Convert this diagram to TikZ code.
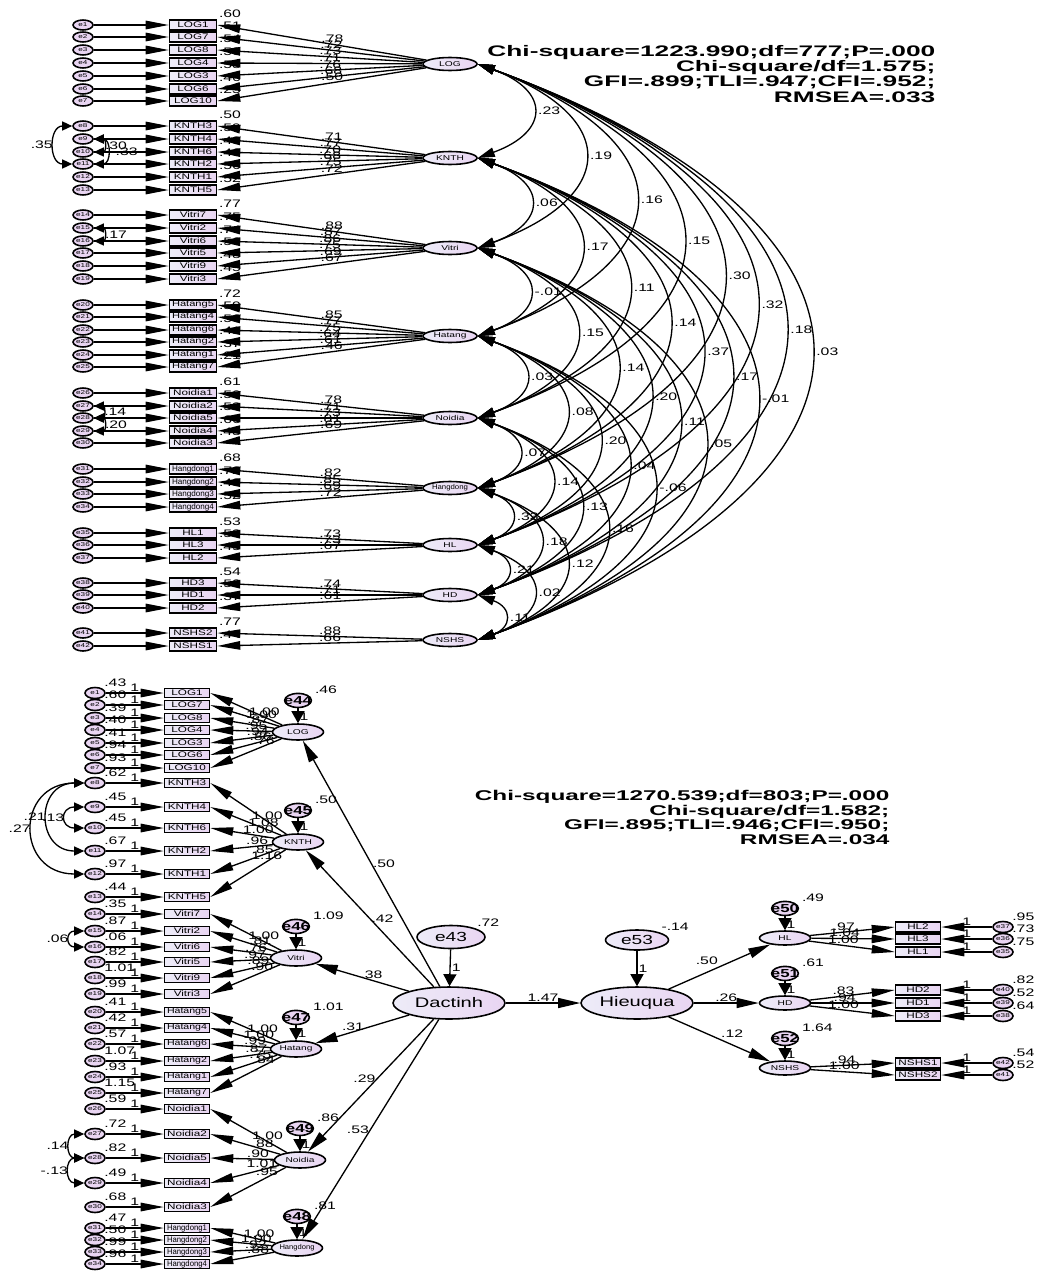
\documentclass[tikz,border=0pt]{standalone}
\usepackage{graphicx}
\usepackage{fontspec}
\setmainfont{Liberation Sans}[FakeStretch=1.45]
\newfontfamily\statfont{Liberation Sans}[FakeStretch=1.72]
\usetikzlibrary{arrows.meta, positioning, shapes.geometric}

\definecolor{lavleft}{RGB}{237,236,248}
\definecolor{lavright}{RGB}{233,213,242}

\newsavebox\sqbox
\newcommand{\squeeze}[2]{\sbox\sqbox{#2}%
  \ifdim\wd\sqbox>#1\relax\resizebox{#1}{\height}{#2}\else\usebox\sqbox\fi}

\begin{document}
\begin{tikzpicture}[
  x=0.02cm, y=-0.02cm,
  line width=0.75pt,
  lat/.style={ellipse, draw, line width=0.9pt, left color=lavleft, right color=lavright,
    inner sep=0pt, minimum width=10.8mm, minimum height=2.6mm, font=\fontsize{4}{4}\selectfont},
  obs/.style={rectangle, draw, line width=0.9pt, left color=lavleft, right color=lavright,
    inner sep=0pt, minimum width=9.4mm, minimum height=2mm, font=\fontsize{4.6}{4.6}\selectfont},
  err/.style={ellipse, draw, line width=0.9pt, fill=lavright, inner sep=0pt,
    minimum width=4mm, minimum height=2mm, font=\fontsize{3.2}{3.2}\selectfont},
  res/.style={ellipse, draw, line width=0.9pt, fill=lavright, inner sep=-2.6pt,
    minimum width=4.4mm, minimum height=2.8mm, font=\bfseries\fontsize{6.6}{6.6}\selectfont},
  big/.style={ellipse, draw, line width=0.9pt, left color=lavleft, right color=lavright,
    inner sep=0pt, minimum width=22.4mm, minimum height=6.4mm, font=\fontsize{7.9}{7.9}\selectfont},
  lbl/.style={font=\fontsize{6.2}{6.2}\selectfont, inner sep=0.6pt},
  stat/.style={font=\statfont\bfseries\fontsize{8.7}{8.6}\selectfont, align=right, inner sep=0pt},
  harr/.style={-{Triangle[length=4.6mm, width=1.7mm]}},
  varr/.style={-{Triangle[length=2.4mm, width=2.6mm]}},
  sarr/.style={-{Triangle[length=4.4mm, width=2mm]}},
  cov/.style={{Triangle[length=3.4mm, width=1.9mm]}-{Triangle[length=3.4mm, width=1.9mm]}},
  ecov/.style={{Triangle[length=2mm, width=1.8mm]}-{Triangle[length=2mm, width=1.8mm]}}
]
  \useasboundingbox (0,0) rectangle (1036,1271);

  % ---------- measurement model (top) ----------
  \def\toprows{%
    LOG1/25/e1/.60/.78/LOG, LOG7/37/e2/.51/.72/LOG, LOG8/50/e3/.54/.73/LOG, LOG4/63/e4/.50/.71/LOG,
    LOG3/76/e5/.58/.76/LOG, LOG6/89/e6/.46/.68/LOG, LOG10/101/e7/.25/.50/LOG,
    KNTH3/126/e8/.50/.71/KNTH, KNTH4/139/e9/.59/.77/KNTH, KNTH6/152/e10/.49/.70/KNTH,
    KNTH2/164/e11/.46/.68/KNTH, KNTH1/177/e12/.56/.75/KNTH, KNTH5/190/e13/.52/.72/KNTH,
    Vitri7/215/e14/.77/.88/Vitri, Vitri2/228/e15/.75/.87/Vitri, Vitri6/241/e16/.74/.86/Vitri,
    Vitri5/253/e17/.56/.75/Vitri, Vitri9/266/e18/.48/.69/Vitri, Vitri3/279/e19/.45/.67/Vitri,
    Hatang5/305/e20/.72/.85/Hatang, Hatang4/317/e21/.59/.77/Hatang, Hatang6/330/e22/.56/.75/Hatang,
    Hatang2/342/e23/.41/.64/Hatang, Hatang1/355/e24/.37/.61/Hatang, Hatang7/367/e25/.21/.46/Hatang,
    Noidia1/393/e26/.61/.78/Noidia, Noidia2/406/e27/.50/.71/Noidia, Noidia5/418/e28/.53/.73/Noidia,
    Noidia4/431/e29/.66/.81/Noidia, Noidia3/443/e30/.48/.69/Noidia,
    Hangdong1/469/e31/.68/.82/Hangdong, Hangdong2/482/e32/.72/.85/Hangdong,
    Hangdong3/494/e33/.48/.69/Hangdong, Hangdong4/507/e34/.52/.72/Hangdong,
    HL1/533/e35/.53/.73/HL, HL3/545/e36/.53/.73/HL, HL2/558/e37/.45/.67/HL,
    HD3/583/e38/.54/.74/HD, HD1/595/e39/.50/.71/HD, HD2/608/e40/.37/.61/HD,
    NSHS2/633/e41/.77/.88/NSHS, NSHS1/646/e42/.44/.66/NSHS}

  \foreach \lv/\yy in {LOG/64, KNTH/158, Vitri/248, Hatang/336, Noidia/418,
                       Hangdong/488, HL/545, HD/595, NSHS/640}
    \node[lat] (t\lv) at (450,\yy) {\squeeze{7.2mm}{\lv}};

  \foreach \lab/\yy/\ee/\rs/\ww/\lv in \toprows {
    \node[obs, label={[lbl]north east:\rs}] (t\lab) at (193,\yy) {\squeeze{8.4mm}{\lab}};
    \node[err] (t\ee) at (83,\yy) {\ee};
  }
  \foreach \lab/\yy/\ee/\rs/\ww/\lv in \toprows {
    \draw[harr] (t\ee) -- (t\lab);
    \draw[harr] (t\lv) -- node[lbl, pos=0.45, above]{\ww} (t\lab.east);
  }

  % error covariances
  \draw[ecov] (te8) to[out=180, in=180, looseness=1.6] node[lbl, left]{.35} (te11);
  \draw[ecov] (te9) to[out=0, in=0, looseness=2.5] node[lbl, right]{.30} (te10);
  \draw[ecov] (te9) to[out=0, in=0, looseness=1.8] node[lbl, right, xshift=4pt]{.33} (te11);
  \draw[ecov] (te15) to[out=0, in=0, looseness=2.5] node[lbl, right]{.17} (te16);
  \draw[ecov] (te27) to[out=0, in=0, looseness=2.5] node[lbl, right]{.14} (te28);
  \draw[ecov] (te28) to[out=0, in=0, looseness=2.5] node[lbl, right]{.20} (te29);

  % factor covariances
  \foreach \a/\b/\vv in {LOG/KNTH/.23, LOG/Vitri/.19, LOG/Hatang/.16, LOG/Noidia/.15,
      LOG/Hangdong/.30, LOG/HL/.32, LOG/HD/.18, LOG/NSHS/.03,
      KNTH/Vitri/.06, KNTH/Hatang/.17, KNTH/Noidia/.11, KNTH/Hangdong/.14,
      KNTH/HL/.37, KNTH/HD/.17, KNTH/NSHS/-.01,
      Vitri/Hatang/-.01, Vitri/Noidia/.15, Vitri/Hangdong/.14, Vitri/HL/.20,
      Vitri/HD/.11, Vitri/NSHS/.05,
      Hatang/Noidia/.03, Hatang/Hangdong/.08, Hatang/HL/.20, Hatang/HD/.04, Hatang/NSHS/-.06,
      Noidia/Hangdong/.07, Noidia/HL/.14, Noidia/HD/.13, Noidia/NSHS/.16,
      Hangdong/HL/.33, Hangdong/HD/.18, Hangdong/NSHS/.12,
      HL/HD/.21, HL/NSHS/.02, HD/NSHS/.11}
    \draw[cov] (t\a.east) to[bend left=70, looseness=2.1]
      node[lbl, right, xshift=2.5pt]{\vv} (t\b.east);

  \node[stat, anchor=north east] (fitTop) at (936,45)
    {Chi-square=1223.990;df=777;P=.000\\Chi-square/df=1.575;\\GFI=.899;TLI=.947;CFI=.952;\\RMSEA=.033};

  % ---------- structural model (bottom) ----------
  \def\botrows{%
    LOG1/693/e1/.43/1.00/LOG, LOG7/705/e2/.60/1.00/LOG, LOG8/718/e3/.39/.87/LOG,
    LOG4/730/e4/.40/.95/LOG, LOG3/743/e5/.41/.94/LOG, LOG6/755/e6/.94/.86/LOG, LOG10/768/e7/.93/.76/LOG,
    KNTH3/783/e8/.62/1.00/KNTH, KNTH4/807/e9/.45/1.08/KNTH, KNTH6/828/e10/.45/1.00/KNTH,
    KNTH2/851/e11/.67/.96/KNTH, KNTH1/874/e12/.97/.85/KNTH, KNTH5/897/e13/.44/1.16/KNTH,
    Vitri7/914/e14/.35/1.00/Vitri, Vitri2/931/e15/.87/.81/Vitri, Vitri6/947/e16/.06/.76/Vitri,
    Vitri5/962/e17/.82/.97/Vitri, Vitri9/978/e18/1.01/.89/Vitri, Vitri3/994/e19/.99/.90/Vitri,
    Hatang5/1012/e20/.41/1.00/Hatang, Hatang4/1028/e21/.42/1.00/Hatang, Hatang6/1044/e22/.57/.99/Hatang,
    Hatang2/1061/e23/1.07/.87/Hatang, Hatang1/1077/e24/.93/.75/Hatang, Hatang7/1093/e25/1.15/.84/Hatang,
    Noidia1/1109/e26/.59/1.00/Noidia, Noidia2/1134/e27/.72/.88/Noidia, Noidia5/1158/e28/.82/.90/Noidia,
    Noidia4/1183/e29/.49/1.01/Noidia, Noidia3/1207/e30/.68/.95/Noidia,
    Hangdong1/1228/e31/.47/1.00/Hangdong, Hangdong2/1240/e32/.50/1.00/Hangdong,
    Hangdong3/1252/e33/.99/.92/Hangdong, Hangdong4/1264/e34/.96/.88/Hangdong}

  \foreach \lv/\xx/\yy in {LOG/298/732, KNTH/298/842, Vitri/296/958, Hatang/296/1049,
                           Noidia/300/1160, Hangdong/297/1248}
    \node[lat, minimum width=10.2mm, minimum height=3.2mm] (b\lv) at (\xx,\yy) {\squeeze{7mm}{\lv}};

  \foreach \lab/\yy/\ee/\rs/\ww/\lv in \botrows {
    \node[obs, minimum width=9mm, minimum height=1.8mm] (b\lab) at (187,\yy) {\squeeze{8mm}{\lab}};
    \node[err, minimum height=2.2mm, label={[lbl]north east:\rs}] (b\ee) at (95,\yy) {\ee};
  }
  \foreach \lab/\yy/\ee/\rs/\ww/\lv in \botrows {
    \draw[harr] (b\ee) -- node[lbl, above]{1} (b\lab);
    \draw[harr] (b\lv) -- node[lbl, pos=0.25, above]{\ww} (b\lab.east);
  }

  \draw[ecov] (be8) to[out=180, in=180, looseness=1.85] node[lbl, left]{.21} (be11);
  \draw[ecov] (be8) to[out=180, in=180, looseness=1.95] node[lbl, left]{.27} (be12);
  \draw[ecov] (be9) to[out=180, in=180, looseness=3] node[lbl, left]{.13} (be10);
  \draw[ecov] (be15) to[out=180, in=180, looseness=3] node[lbl, left]{.06} (be16);
  \draw[ecov] (be27) to[out=180, in=180, looseness=2] node[lbl, left]{.14} (be28);
  \draw[ecov] (be28) to[out=180, in=180, looseness=2] node[lbl, left]{-.13} (be29);

  \foreach \lv/\rr/\vv in {LOG/e44/.46, KNTH/e45/.50, Vitri/e46/1.09, Hatang/e47/1.01,
                           Noidia/e49/.86, Hangdong/e48/.81} {
    \node[res, above=3mm of b\lv, label={[lbl, xshift=3pt]north east:\vv}] (\rr) {\rr};
    \draw[varr] (\rr) -- node[lbl, right, pos=0.6]{1} (b\lv);
  }

  \node[big] (Dactinh) at (449,1003) {Dactinh};
  \node[big] (Hieuqua) at (637,1003) {Hieuqua};
  \node[big, minimum width=13.6mm, minimum height=4.6mm, font=\fontsize{7.5}{7.5}\selectfont,
        label={[lbl]north east:.72}] (e43) at (451,937) {e43};
  \node[big, minimum width=12.6mm, minimum height=4mm, font=\fontsize{7.5}{7.5}\selectfont,
        label={[lbl]north east:-.14}] (e53) at (637,940) {e53};
  \draw[varr] (e43) -- node[lbl, right]{1} (Dactinh);
  \draw[varr] (e53) -- node[lbl, right]{1} (Hieuqua);
  \draw[sarr] (Dactinh) -- node[lbl, above]{1.47} (Hieuqua);

  \foreach \lv/\vv/\pp/\an in {LOG/.50/0.5/west, KNTH/.42/0.5/west, Vitri/.38/0.4/south,
                               Hatang/.31/0.6/south, Noidia/.29/0.45/east, Hangdong/.53/0.5/east}
    \draw[sarr] (Dactinh) -- node[lbl, pos=\pp, anchor=\an]{\vv} (b\lv);

  % outcome factors
  \foreach \lv/\yy/\rr/\vv in {HL/938/e50/.49, HD/1003/e51/.61, NSHS/1068/e52/1.64} {
    \node[lat, minimum width=10.2mm, minimum height=2.8mm] (b\lv) at (785,\yy) {\lv};
    \node[res, above=2.8mm of b\lv, label={[lbl, xshift=3pt]north east:\vv}] (\rr) {\rr};
    \draw[varr] (\rr) -- node[lbl, right, pos=0.6]{1} (b\lv);
  }
  \draw[sarr] (Hieuqua) -- node[lbl, above left]{.50} (bHL);
  \draw[sarr] (Hieuqua) -- node[lbl, above]{.26} (bHD);
  \draw[sarr] (Hieuqua) -- node[lbl, above right]{.12} (bNSHS);

  \def\rightrows{%
    HL2/927/e37/.95/.97/HL, HL3/939/e36/.73/1.04/HL, HL1/952/e35/.75/1.00/HL,
    HD2/990/e40/.82/.83/HD, HD1/1003/e39/.52/.94/HD, HD3/1016/e38/.64/1.00/HD,
    NSHS1/1063/e42/.54/.94/NSHS, NSHS2/1075/e41/.52/1.00/NSHS}
  \foreach \lab/\yy/\ee/\rs/\ww/\lv in \rightrows {
    \node[obs, minimum width=9mm, minimum height=2mm] (b\lab) at (918,\yy) {\lab};
    \node[err, minimum height=2.2mm, label={[lbl]north east:\rs}] (b\ee) at (1003,\yy) {\ee};
  }
  \foreach \lab/\yy/\ee/\rs/\ww/\lv in \rightrows {
    \draw[harr] (b\ee) -- node[lbl, above]{1} (b\lab);
    \draw[harr] (b\lv) -- node[lbl, pos=0.4, above]{\ww} (b\lab.west);
  }

  \node[stat, anchor=north east, font=\statfont\bfseries\fontsize{8.05}{8.2}\selectfont] (fitBot)
    at (890,790) {Chi-square=1270.539;df=803;P=.000\\Chi-square/df=1.582;\\GFI=.895;TLI=.946;CFI=.950;\\RMSEA=.034};
\end{tikzpicture}
\end{document}
